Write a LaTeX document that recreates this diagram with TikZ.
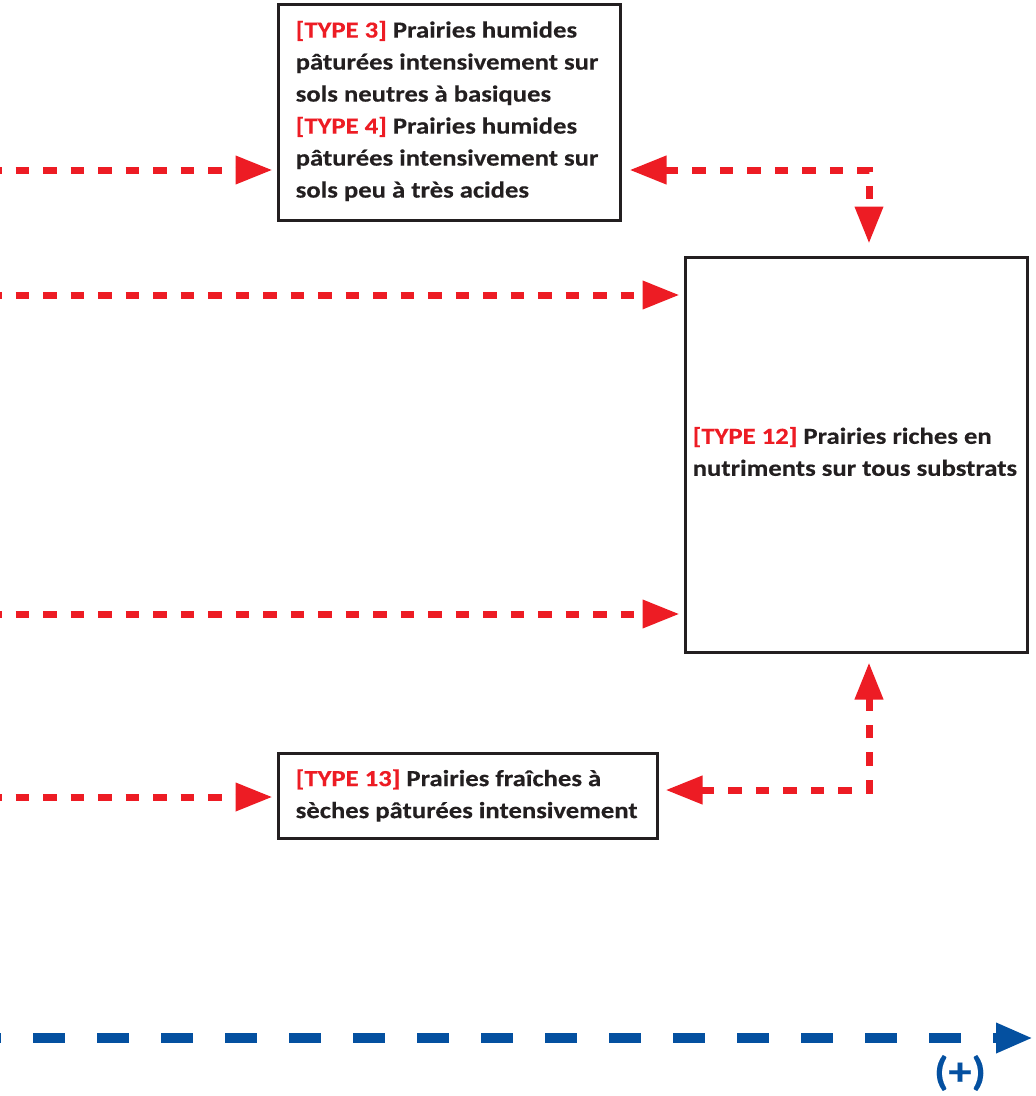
\documentclass[tikz,border=0pt]{standalone}
\usepackage{fontspec}
\setmainfont{Carlito}[FakeStretch=1.16,FakeBold=0.3]
\usetikzlibrary{arrows.meta}
\definecolor{tred}{RGB}{237,28,36}
\definecolor{tblue}{RGB}{4,80,160}
\definecolor{tink}{RGB}{35,31,32}
\begin{document}
\begin{tikzpicture}[x=1pt,y=-1pt,
  box/.style={draw=tink,line width=3pt,inner sep=0pt},
  txt/.style={anchor=west,align=left,inner sep=0pt,text=tink,
    font=\bfseries\fontsize{23}{32}\selectfont},
  link/.style={draw=tred,line width=7pt,dash pattern=on 13.5pt off 14pt,dash phase=12pt,
    -{Triangle[length=37pt,width=27pt]}},
  link2/.style={link,{Triangle[length=37pt,width=27pt]}-{Triangle[length=37pt,width=27pt]}},
  axis/.style={draw=tblue,line width=9.5pt,dash pattern=on 32pt off 32pt,dash phase=31pt,
    -{Triangle[length=37pt,width=28pt]}}]
\useasboundingbox (0,0) rectangle (1036,1096);

% boxes
\node[box,minimum width=342pt,minimum height=216pt] (b1) at (449,112) {};
\node[box,minimum width=342pt,minimum height=395pt] (b2) at (856,454.5) {};
\node[box,minimum width=379pt,minimum height=85pt] (b3) at (467.5,795.5) {};

% box texts
\node[txt] (t1) at ([xshift=19pt,yshift=1pt]b1.west) {\textcolor{tred}{[TYPE 3]} Prairies humides\\
  pâturées intensivement sur\\ sols neutres à basiques\\
  \textcolor{tred}{[TYPE 4]} Prairies humides\\
  pâturées intensivement sur\\ sols peu à très acides};
\node[txt] (t2) at ([xshift=9pt,yshift=3pt]b2.west) {\textcolor{tred}{[TYPE 12]} Prairies riches en\\
  nutriments sur tous substrats};
\node[txt] (t3) at ([xshift=19pt]b3.west) {\textcolor{tred}{[TYPE 13]} Prairies fraîches à\\
  sèches pâturées intensivement};

% incoming connectors from the left edge
\coordinate (s1) at (0,170);
\coordinate (s2) at (0,295);
\coordinate (s3) at (0,614);
\coordinate (s4) at (0,797);
\draw[link,shorten >=4pt] (s1) -- (s1 -| b1.west);
\draw[link,shorten >=4pt] (s2) -- (s2 -| b2.west);
\draw[link,shorten >=4pt] (s3) -- (s3 -| b2.west);
\draw[link,shorten >=4pt] (s4) -- (s4 -| b3.west);

% two-way connectors with elbows
\coordinate (e1) at (869,170);
\coordinate (e2) at (869,790);
\draw[link2,dash phase=0pt,shorten <=8pt,shorten >=12pt] (e1 -| b1.east) -- (e1) -- (e1 |- b2.north);
\draw[link2,dash phase=0pt,shorten <=7pt,shorten >=9pt] (e2 -| b3.east) -- (e2) -- (e2 |- b2.south);

% gradient axis
\coordinate (a0) at (0,1038);
\coordinate (a1) at (1033,1038);
\draw[axis] (a0) -- (a1);
\node[text=tblue,inner sep=0pt,font=\bfseries\fontsize{40}{44}\selectfont] (plus) at (960,1073) {(+)};
\end{tikzpicture}
\end{document}
